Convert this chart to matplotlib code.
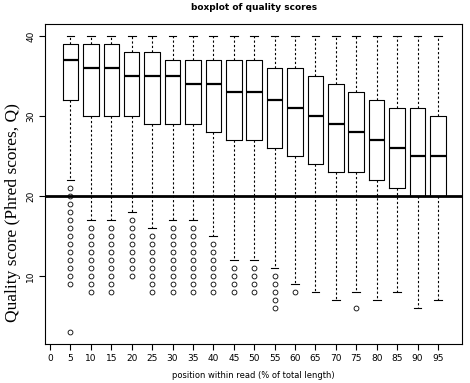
import matplotlib
matplotlib.use("Agg")
import matplotlib.pyplot as plt

# box statistics, one entry per read position
positions = [5, 10, 15, 20, 25, 30, 35, 40, 45, 50, 55, 60, 65, 70, 75, 80, 85, 90, 95]
medians = [37, 36, 36, 35, 35, 35, 34, 34, 33, 33, 32, 31, 30, 29, 28, 27, 26, 25, 25]
q1 = [32, 30, 30, 30, 29, 29, 29, 28, 27, 27, 26, 25, 24, 23, 23, 22, 21, 20, 20]
q3 = [39, 39, 39, 38, 38, 37, 37, 37, 37, 37, 36, 36, 35, 34, 33, 32, 31, 31, 30]
whisk_lo = [22, 17, 17, 18, 16, 17, 17, 15, 12, 12, 11, 9, 8, 7, 8, 7, 8, 6, 7]
whisk_hi = [40] * 19
outliers = [
    [21, 20, 19, 18, 17, 16, 15, 14, 13, 12, 11, 10, 9, 3],
    [16, 15, 14, 13, 12, 11, 10, 9, 8],
    [16, 15, 14, 13, 12, 11, 10, 9, 8],
    [17, 16, 15, 14, 13, 12, 11, 10],
    [15, 14, 13, 12, 11, 10, 9, 8],
    [16, 15, 14, 13, 12, 11, 10, 9, 8],
    [16, 15, 14, 13, 12, 11, 10, 9, 8],
    [14, 13, 12, 11, 10, 9, 8],
    [11, 10, 9, 8],
    [11, 10, 9, 8],
    [10, 9, 8, 7, 6],
    [8],
    [], [], [6], [], [], [], [],
]
xticks = list(range(0, 100, 5))
yticks = [10, 20, 30, 40]
threshold = 20

stats = []
for i in range(len(positions)):
    stats.append(dict(med=medians[i], q1=q1[i], q3=q3[i],
                      whislo=whisk_lo[i], whishi=whisk_hi[i], fliers=outliers[i]))

fig = plt.figure(figsize=(4.7, 3.83), dpi=100)
ax = fig.add_axes([0.096, 0.102, 0.887, 0.835])

ax.bxp(stats, positions=positions, widths=3.8, showfliers=True,
       boxprops=dict(color="black", linewidth=0.8),
       medianprops=dict(color="black", linewidth=1.6),
       whiskerprops=dict(color="black", linewidth=0.8, linestyle=(0, (2, 2))),
       capprops=dict(color="black", linewidth=0.8),
       capwidths=1.9,
       flierprops=dict(marker="o", markersize=3.5, markerfacecolor="none",
                       markeredgecolor="black", markeredgewidth=0.6))

ax.axhline(threshold, color="black", linewidth=2)

ax.set_xlim(-1.2, 100.9)
ax.set_ylim(1.52, 41.48)
ax.set_xticks(xticks)
ax.set_xticklabels([str(t) for t in xticks], fontsize=6.5)
ax.set_yticks(yticks)
ax.set_yticklabels([str(t) for t in yticks], fontsize=6.5, rotation=90, va="center")
ax.tick_params(length=4, width=0.8, pad=3)
for s in ax.spines.values():
    s.set_linewidth(0.8)

ax.set_title("boxplot of quality scores", fontsize=6.5, fontweight="bold", pad=10)
ax.set_xlabel("position within read (% of total length)", fontsize=6)
ax.xaxis.set_label_coords(0.5, -0.086)
ax.set_ylabel("Quality score (Phred scores, Q)", fontsize=12.5,
              family="Liberation Serif")
ax.yaxis.set_label_coords(-0.058, 0.41)

fig.savefig("out.png", dpi=100)
